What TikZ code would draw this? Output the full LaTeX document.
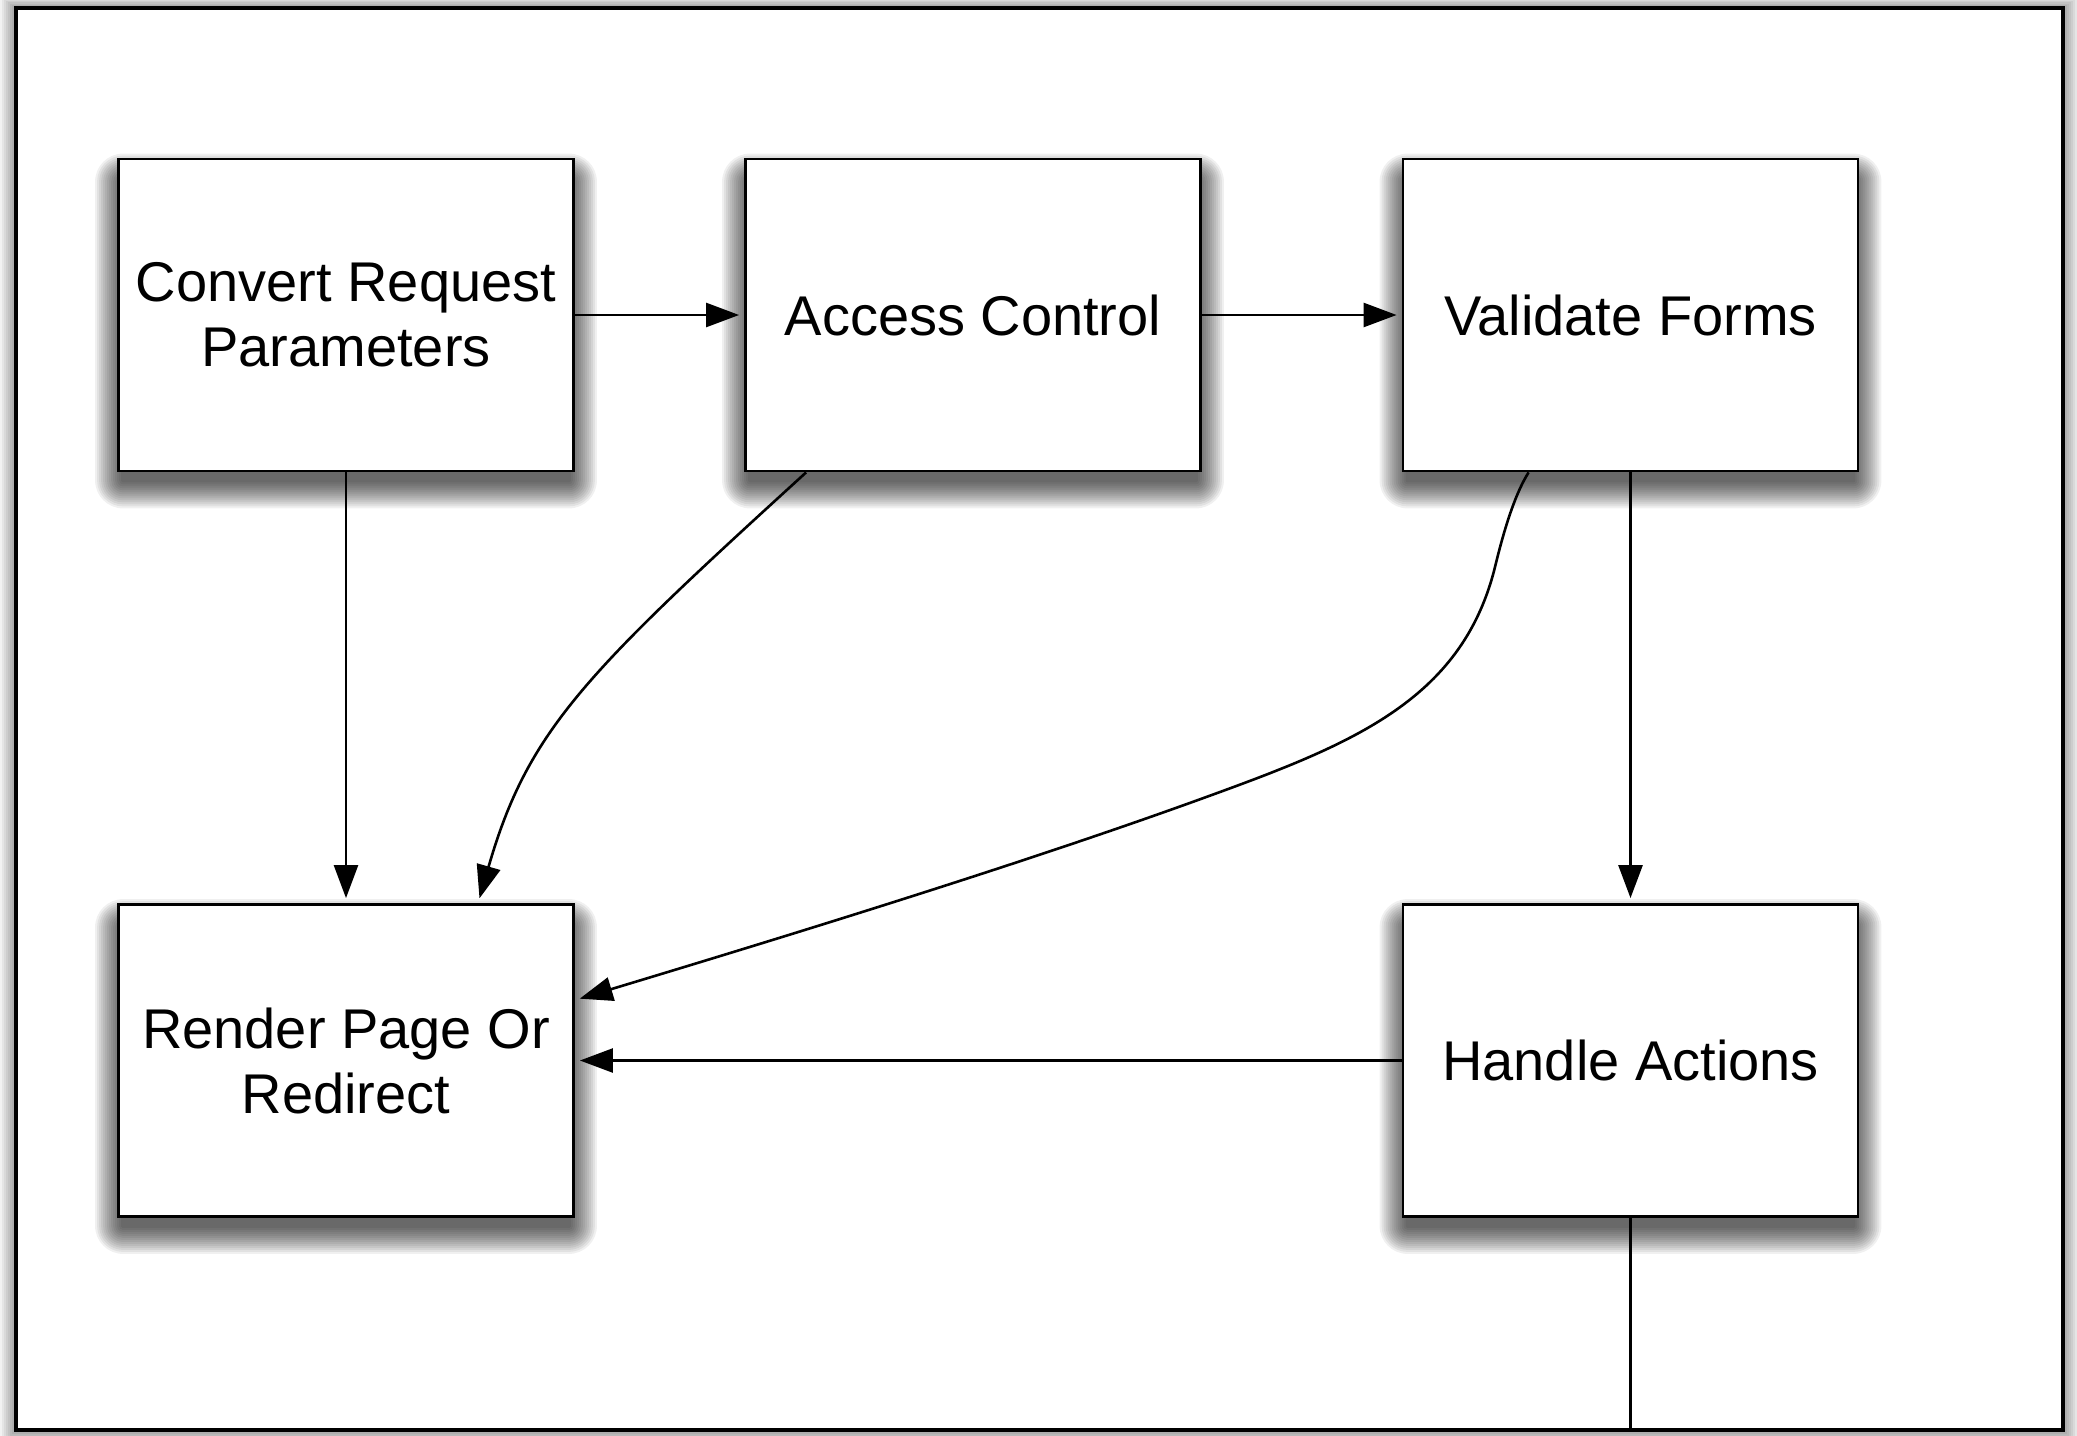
\documentclass[tikz,border=0pt]{standalone}
\usepackage{fontspec}
\setmainfont{Liberation Sans}
\usetikzlibrary{arrows.meta,calc}
\pgfdeclarelayer{frmlayer}
\pgfdeclarelayer{shdlayer}
\pgfsetlayers{frmlayer,shdlayer,main}
\newcommand\mkshadow[1]{%
  \foreach \k in {1,...,14}{%
    \fill[black,opacity=0.06,rounded corners=\k pt] ($(#1.south west)+(6-2*\k,8+2*\k)$) rectangle ($(#1.north east)+(-6+2*\k,24-2*\k)$);
  }%
}
\begin{document}
\begin{tikzpicture}[x=0.5pt,y=-0.5pt,
  box/.style={draw, fill=white, line width=1.4pt, minimum width=227.5pt, minimum height=156pt,
    inner sep=0pt, align=center, font=\fontsize{28pt}{32.5pt}\selectfont},
  conn/.style={line width=1.3pt, -{Triangle[length=16.5pt,width=12pt]}, shorten >=2.5pt},
  plainline/.style={line width=1.3pt},
  frame/.style={draw, fill=white, line width=1.6pt, minimum width=1023.5pt, minimum height=711pt,
    inner sep=0pt}]
\useasboundingbox (0,0) rectangle (2077,1435);
\begin{pgfonlayer}{frmlayer}
  \fill[white] (0,0) rectangle (2077,1435);
  \foreach \k in {1,...,8}{%
    \fill[black,opacity=0.05] (16-2*\k,8-1.5*\k) rectangle (2063+2*\k,1430+2*\k);
  }
  \node[frame] (frm) at (1039.5,719) {};
\end{pgfonlayer}
\node[box] (conv) at (346,315) {Convert Request\\Parameters};
\node[box] (acc) at (973,315) {Access Control};
\node[box] (val) at (1630.5,315) {Validate Forms};
\node[box] (rend) at (346,1060.5) {Render Page Or\\Redirect};
\node[box] (hand) at (1630.5,1060.5) {Handle Actions};
\begin{pgfonlayer}{shdlayer}
  \mkshadow{conv}
  \mkshadow{acc}
  \mkshadow{val}
  \mkshadow{rend}
  \mkshadow{hand}
\end{pgfonlayer}
\draw[conn] (conv) -- (acc);
\draw[conn] (acc) -- (val);
\draw[conn] (conv) -- (rend);
\draw[conn] (val) -- (hand);
\draw[conn] (hand) -- (rend);
\draw[plainline] (hand.south) -- (hand.south |- frm.south);
\draw[conn] ($(acc.south west)+(62,0)$) .. controls (585,674) and (528,730) .. ($(rend.north west)+(361,0)$);
\coordinate (va) at (1495,567);
\coordinate (vb) at (1198,800);
\draw[conn] ($(val.south west)+(127,0)$) .. controls (1513.5,496) and (1502,538) .. (va)
  .. controls (1461.4,702.8) and (1348,745.6) .. (vb)
  .. controls (1010,868) and (768.6,941.6) .. ($(rend.north east)+(0,97)$);
\end{tikzpicture}
\end{document}
